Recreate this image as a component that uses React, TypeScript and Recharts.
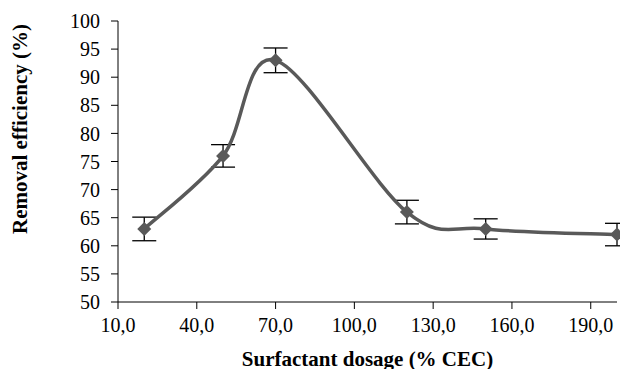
import React from 'react';
import { ComposedChart, Line, XAxis, YAxis, ErrorBar, Label } from 'recharts';

const dosage = [20, 50, 70, 120, 150, 200];
const removal = [63, 76, 93, 66, 63, 62];
const errors = [2.1, 2, 2.2, 2.1, 1.8, 2];
const xTicks = [10, 40, 70, 100, 130, 160, 190];
const yTicks = [50, 55, 60, 65, 70, 75, 80, 85, 90, 95, 100];

const data = dosage.map((d, i) => ({ dosage: d, removal: removal[i], err: errors[i] }));

const SERIES = '#595959';
const FONT = 'Liberation Serif, Times New Roman, serif';

// Excel-style smoothed line (Catmull-Rom through the points)
const excelSmooth = (context: any) => {
    let pts: number[][] = [];
    return {
        areaStart() {},
        areaEnd() {},
        lineStart() {
            pts = [];
        },
        point(x: number, y: number) {
            pts.push([+x, +y]);
        },
        lineEnd() {
            if (!pts.length) return;
            context.moveTo(pts[0][0], pts[0][1]);
            for (let i = 0; i < pts.length - 1; i++) {
                const p0 = pts[i - 1] || pts[i];
                const p1 = pts[i];
                const p2 = pts[i + 1];
                const p3 = pts[i + 2] || p2;
                context.bezierCurveTo(
                    p1[0] + (p2[0] - p0[0]) / 6,
                    p1[1] + (p2[1] - p0[1]) / 6,
                    p2[0] - (p3[0] - p1[0]) / 6,
                    p2[1] - (p3[1] - p1[1]) / 6,
                    p2[0],
                    p2[1]
                );
            }
        },
    };
};

const Diamond = (props: any) => {
    const { cx, cy } = props;
    if (cx == null || cy == null) return null;
    const r = 7;
    return <polygon points={`${cx},${cy - r} ${cx + r},${cy} ${cx},${cy + r} ${cx - r},${cy}`} fill={SERIES} />;
};

const XTitle = (props: any) => {
    const { viewBox } = props;
    const cx = viewBox.x + viewBox.width / 2;
    return (
        <text x={cx} y={366} textAnchor="middle" fontFamily={FONT} fontSize={21} fontWeight="bold" fill="#000">
            Surfactant dosage (% CEC)
        </text>
    );
};

const YTitle = () => (
    <text
        x={27}
        y={129}
        transform="rotate(-90, 27, 129)"
        textAnchor="middle"
        fontFamily={FONT}
        fontSize={21}
        fontWeight="bold"
        fill="#000"
    >
        Removal efficiency (%)
    </text>
);

const App: React.FC = () => {
    return (
        <div style={{ position: 'absolute', left: 0, top: 0, background: '#fff', fontFamily: FONT }}>
            <ComposedChart width={620} height={369} data={data} margin={{ top: 21, right: 3, bottom: 0, left: 0 }}>
                <XAxis
                    dataKey="dosage"
                    type="number"
                    domain={[10, 200]}
                    ticks={xTicks}
                    tickFormatter={(v: number) => v.toFixed(1).replace('.', ',')}
                    height={67}
                    axisLine={{ stroke: '#000' }}
                    tickLine={{ stroke: '#000' }}
                    tickSize={7}
                    tickMargin={9}
                    tick={{ fill: '#000', fontSize: 20, fontFamily: FONT }}
                    interval={0}
                >
                    <Label content={<XTitle />} />
                </XAxis>
                <YAxis
                    type="number"
                    domain={[50, 100]}
                    ticks={yTicks}
                    width={118}
                    axisLine={{ stroke: '#000' }}
                    tickLine={{ stroke: '#000' }}
                    tickSize={7}
                    tickMargin={11}
                    tick={{ fill: '#000', fontSize: 20, fontFamily: FONT }}
                    interval={0}
                >
                    <Label content={<YTitle />} />
                </YAxis>
                <Line
                    dataKey="removal"
                    type={excelSmooth as any}
                    stroke={SERIES}
                    strokeWidth={3.5}
                    dot={<Diamond />}
                    activeDot={false}
                    isAnimationActive={false}
                >
                    <ErrorBar dataKey="err" direction="y" width={12} stroke="#000" strokeWidth={1.3} />
                </Line>
            </ComposedChart>
        </div>
    );
};

export default App;
